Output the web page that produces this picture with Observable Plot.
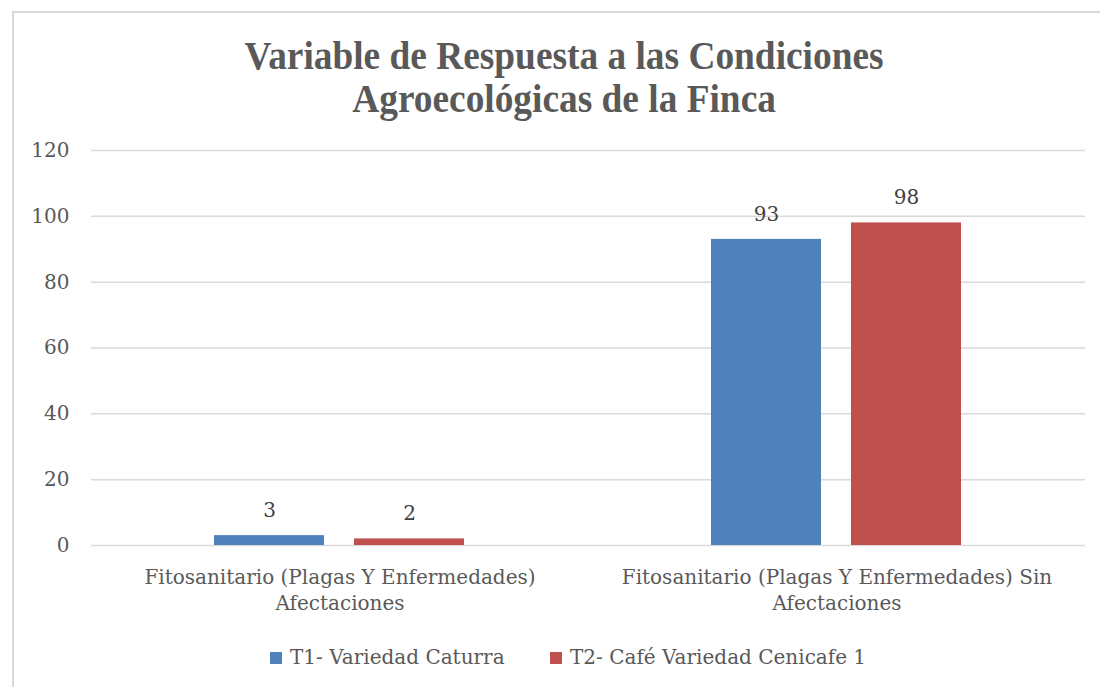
<!DOCTYPE html>
<html>
<head>
<meta charset="utf-8">
<script src="https://cdn.jsdelivr.net/npm/d3@7"></script>
<script src="https://cdn.jsdelivr.net/npm/@observablehq/plot@0.6"></script>
<style>
  html, body { margin: 0; padding: 0; background: #fff; width: 1100px; height: 687px; overflow: hidden; }
  #wrap { position: relative; width: 1100px; height: 687px; }
  #frame { position: absolute; left: 12px; top: 11px; width: 1200px; height: 800px; border-left: 2px solid #d9d9d9; border-top: 2px solid #d9d9d9; }
  #title { position: absolute; left: 14px; top: 34px; width: 1100px; text-align: center; font-family: "Liberation Serif", "Times New Roman", Times, serif; font-weight: bold; font-size: 40px; line-height: 43px; color: #595959; }
  #title span { display: inline-block; transform: scaleX(0.934); transform-origin: 50% 0; }
  #chart { position: absolute; left: 0; top: 130px; }
  #legend { position: absolute; left: 0; top: 645px; width: 1100px; font-family: "DejaVu Serif", serif; font-size: 20px; color: #595959; }
  .item { position: absolute; top: 0; white-space: nowrap; }
  .sw { display: inline-block; width: 12px; height: 12px; margin-right: 8px; vertical-align: 0px; }
</style>
</head>
<body>
<div id="wrap">
  <div id="frame"></div>
  <div id="title"><span>Variable de Respuesta a las Condiciones<br>Agroecológicas de la Finca</span></div>
  <div id="chart"></div>
  <div id="legend"></div>
</div>
<script>
const categories = [
  "Fitosanitario (Plagas Y Enfermedades) Afectaciones",
  "Fitosanitario (Plagas Y Enfermedades) Sin Afectaciones"
];
const categoryLabels = [
  "Fitosanitario (Plagas Y Enfermedades)\nAfectaciones",
  "Fitosanitario (Plagas Y Enfermedades) Sin\nAfectaciones"
];
const seriesNames = ["T1- Variedad Caturra", "T2- Café Variedad Cenicafe 1"];
const seriesColors = ["#4f81bd", "#c0504d"];
const t1Values = [3, 93];
const t2Values = [2, 98];
const yTicks = [0, 20, 40, 60, 80, 100, 120];

const data = [];
categories.forEach((c, i) => {
  data.push({category: c, series: seriesNames[0], value: t1Values[i]});
  data.push({category: c, series: seriesNames[1], value: t2Values[i]});
});

const font = "DejaVu Serif, serif";
const chart = Plot.plot({
  width: 1100,
  height: 495,
  marginLeft: 91,
  marginRight: 15,
  marginTop: 20,
  marginBottom: 80,
  style: {fontFamily: font, fontSize: "20px", color: "#595959", background: "transparent"},
  fx: {domain: categories, padding: 0, label: null},
  x: {domain: seriesNames, paddingInner: 0.2128, paddingOuter: 0.869, axis: null},
  y: {domain: [0, 120], label: null},
  color: {domain: seriesNames, range: seriesColors},
  marks: [
    Plot.gridY(yTicks, {stroke: "#d9d9d9", strokeOpacity: 1, strokeWidth: 1.5}),
    Plot.axisY(yTicks, {tickSize: 0, tickPadding: 22, label: null, fontSize: 20, fill: "#595959"}),
    Plot.axisFx({anchor: "bottom", tickSize: 0, tickPadding: 20, label: null, lineHeight: 1.3, fontSize: 20, fill: "#595959",
      tickFormat: d => categoryLabels[categories.indexOf(d)]}),
    Plot.barY(data, {fx: "category", x: "series", y: "value", fill: "series"}),
    Plot.text(data, {fx: "category", x: "series", y: "value", text: d => String(d.value), dy: -25, fontSize: 20, fill: "#404040"})
  ]
});
document.getElementById("chart").appendChild(chart);

const legend = document.getElementById("legend");
const legendX = [270, 550];
seriesNames.forEach((s, i) => {
  const item = document.createElement("div");
  item.className = "item";
  item.style.left = legendX[i] + "px";
  const sw = document.createElement("span");
  sw.className = "sw";
  sw.style.background = seriesColors[i];
  item.appendChild(sw);
  item.appendChild(document.createTextNode(s));
  legend.appendChild(item);
});
</script>
</body>
</html>
